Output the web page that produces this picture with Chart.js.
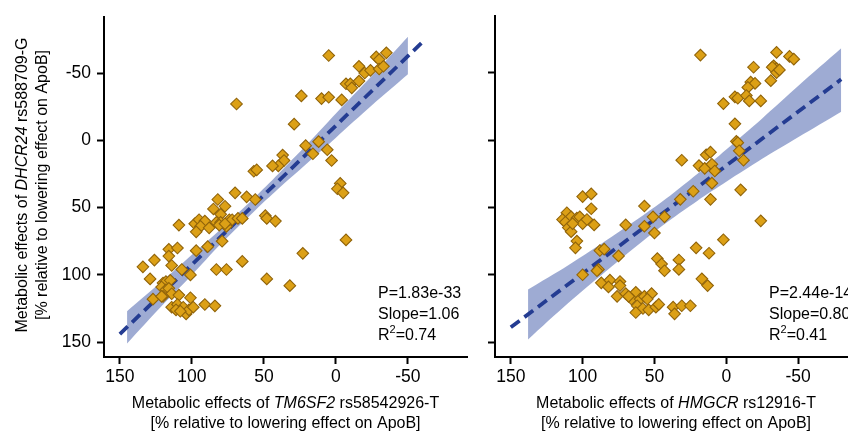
<!DOCTYPE html>
<html><head><meta charset="utf-8">
<script src="https://cdn.jsdelivr.net/npm/chart.js@4"></script>
<style>
html,body{margin:0;padding:0;width:848px;height:432px;overflow:hidden;background:#fff;}
#a{position:absolute;left:0;top:0;}
#b{position:absolute;left:480px;top:0;}
</style></head><body>
<canvas id="a" width="480" height="432"></canvas>
<canvas id="b" width="390" height="432"></canvas>
<script>
const xTicks = [-50, 0, 50, 100, 150];
const yTicks = [-50, 0, 50, 100, 150];

// Left panel: TM6SF2 (x) vs DHCR24 (y)
const leftX = [5,24,10,5,-4,29,21,12,16,6,3,-3,-1,-5,-7,-7,-10,-11,-16,-16,-20,-24,-28,-30,-35,-30,-33,69,23,
  37,36,40,44,57,55,70,62,56,82,77,85,80,109,98,95,91,94,97,88,83,80,76,74,72,68,65,81,77,49,48,42,79,89,97,116,110,116,114,126,134,65,107,83,76,101,129,48,32,
  120,118,115,121,118,116,114,120,127,121,109,101,114,110,106,104,102,99,91,84,111,108];
const leftY = [-63,-33,-31,-32,-30,-12,4,1,10,7,15,32,36,39,74,-42,-42,-39,-44,-55,-50,-52,-62,-60,-65,-53,-55,-27,84,
  11,15,19,19,23,22,39,42,44,44,49,51,55,63,62,59,60,64,68,65,61,61,64,59,59,58,58,63,62,56,58,60,75,79,82,81,80,86,93,89,94,90,96,96,96,100,103,103,108,
  106,105,104,109,111,110,114,116,118,116,115,117,124,122,124,129,126,124,122,123,126,127];

// Right panel: HMGCR (x) vs DHCR24 (y)
const rightX = [18,-35,-44,-47,-19,-33,-35,-32,-35,-37,-31,-17,-20,-15,-6,-8,-14,-16,-24,2,-6,-7,-8,-9,-12,31,14,11,19,15,10,8,10,23,32,11,-10,-24,2,
  100,94,94,111,108,114,112,104,102,100,97,92,110,108,104,105,107,70,57,51,43,57,50,88,85,75,89,90,100,87,81,82,74,74,76,70,63,66,60,57,52,62,58,54,49,47,63,55,68,48,45,43,33,33,21,12,17,13,37,31,25,36];
const rightY = [-63,-65,-62,-60,-54,-55,-53,-54,-50,-52,-44,-43,-42,-39,-32,-31,-33,-29,-29,-27,-12,1,2,8,15,15,11,9,19,21,18,23,32,38,44,44,37,60,74,
  42,40,51,54,57,59,61,58,57,62,59,63,65,68,75,80,62,63,49,57,57,64,69,82,81,86,96,97,100,106,104,109,105,108,116,114,113,118,118,116,114,123,125,126,124,122,128,118,116,88,92,97,89,96,80,84,103,108,124,123,123,129];

const leftFitX = [150, -62];
const leftFitY = [144, -75];
const leftBandX  = [145, 120, 100, 80, 57, 40, 20, 0, -25, -50];
const leftBandLo = [127, 104, 85, 66, 43, 25, 3, -20, -48, -77];
const leftBandHi = [151, 122, 100, 77, 53, 36, 17, -2, -26, -49];

const rightFitX = [150, -80];
const rightFitY = [139, -45];
const rightBandX  = [138, 110, 80, 45, 20, 0, -25, -50, -80];
const rightBandLo = [111, 93, 72, 46, 25, 7, -16, -40, -68];
const rightBandHi = [148, 121, 94, 64, 45, 31, 14, -2, -21];

const leftStats = ["P=1.83e-33", "Slope=1.06", "0.74"];
const rightStats = ["P=2.44e-14", "Slope=0.80", "0.41"];

const leftXTitle = [{t:"Metabolic effects of "},{t:"TM6SF2",it:true},{t:" rs58542926-T"}];
const rightXTitle = [{t:"Metabolic effects of "},{t:"HMGCR",it:true},{t:" rs12916-T"}];
const yTitle = [{t:"Metabolic effects of "},{t:"DHCR24",it:true},{t:" rs588709-G"}];
const unitTitle = [{t:"[% relative to lowering effect on ApoB]"}];

const FAM = '"Liberation Sans", Arial, Helvetica, sans-serif';
const zip = (xs, ys) => xs.map((x, i) => ({x: x, y: ys[i]}));

function drawSegs(ctx, segs, x, y, center, size) {
  const w = segs.map(s => { ctx.font = (s.it ? 'italic ' : '') + size + 'px ' + FAM; return ctx.measureText(s.t).width; });
  const total = w.reduce((a, b) => a + b, 0);
  let cx = center ? x - total / 2 : x;
  segs.forEach((s, i) => { ctx.font = (s.it ? 'italic ' : '') + size + 'px ' + FAM; ctx.fillText(s.t, cx, y); cx += w[i]; });
}

function textPlugin(xTitle, showY, stats, statX) {
  return {
    id: 'texts',
    afterDraw(chart) {
      const ctx = chart.ctx, a = chart.chartArea;
      ctx.save();
      ctx.fillStyle = '#000';
      ctx.textAlign = 'left';
      ctx.textBaseline = 'alphabetic';
      const cx = (a.left + a.right) / 2;
      drawSegs(ctx, xTitle, cx, 408, true, 16);
      drawSegs(ctx, unitTitle, cx, 428, true, 16);
      if (showY) {
        const cy = 185;
        ctx.save(); ctx.translate(26.5, cy); ctx.rotate(-Math.PI / 2);
        drawSegs(ctx, yTitle, 0, 0, true, 16); ctx.restore();
        ctx.save(); ctx.translate(46.5, cy); ctx.rotate(-Math.PI / 2);
        drawSegs(ctx, unitTitle, 0, 0, true, 16); ctx.restore();
      }
      ctx.font = '16px ' + FAM;
      ctx.fillText(stats[0], statX, 298);
      ctx.fillText(stats[1], statX, 319);
      ctx.fillText('R', statX, 340);
      let w = ctx.measureText('R').width;
      ctx.font = '11px ' + FAM;
      ctx.fillText('2', statX + w, 333);
      w += ctx.measureText('2').width;
      ctx.font = '16px ' + FAM;
      ctx.fillText('=' + stats[2], statX + w, 340);
      ctx.restore();
    }
  };
}

function makeScales(showY, yWidth) {
  const axisCommon = {
    type: 'linear', reverse: true,
    grid: {drawOnChartArea: false, drawTicks: true, tickLength: 7, tickWidth: 2, tickColor: '#000'},
    border: {display: true, color: '#000', width: 2}
  };
  return {
    x: Object.assign({}, axisCommon, {
      min: -91, max: 161,
      afterBuildTicks: s => { s.ticks = xTicks.map(v => ({value: v})); },
      afterFit: s => { s.height = 75; },
      ticks: {color: '#000', font: {family: FAM, size: 17.5}, padding: 3, maxRotation: 0, autoSkip: false, callback: v => String(v)}
    }),
    y: Object.assign({}, axisCommon, {
      min: -92, max: 161,
      afterBuildTicks: s => { s.ticks = yTicks.map(v => ({value: v})); },
      afterFit: s => { s.width = yWidth; },
      ticks: {display: showY, color: '#000', font: {family: FAM, size: 17.5}, padding: 6, autoSkip: false, callback: v => String(v)}
    })
  };
}

function makeChart(id, px, py, fitX, fitY, bandX, bandLo, bandHi, showY, yWidth, xTitle, stats, statX) {
  return new Chart(document.getElementById(id), {
    type: 'scatter',
    data: {
      datasets: [
        {type: 'line', data: zip(bandX, bandLo), borderWidth: 0, pointRadius: 0, fill: false, order: 3, tension: 0.3},
        {type: 'line', data: zip(bandX, bandHi), borderWidth: 0, pointRadius: 0, fill: '-1', backgroundColor: 'rgba(62,88,168,0.5)', order: 2, tension: 0.3},
        {type: 'line', data: zip(fitX, fitY), borderColor: 'rgb(36,60,146)', borderWidth: 3.8, borderDash: [11, 6], pointRadius: 0, fill: false, order: 1},
        {type: 'scatter', data: zip(px, py), pointStyle: 'rectRot', pointRadius: 5.8, backgroundColor: 'rgb(220,160,22)', borderColor: 'rgb(145,100,10)', borderWidth: 1.1, order: 0}
      ]
    },
    options: {
      responsive: false, animation: false, devicePixelRatio: 1,
      layout: {padding: {left: 0, right: 13, top: 16, bottom: 0}},
      plugins: {legend: {display: false}, tooltip: {enabled: false}},
      scales: makeScales(showY, yWidth)
    },
    plugins: [textPlugin(xTitle, showY, stats, statX)]
  });
}

makeChart('a', leftX, leftY, leftFitX, leftFitY, leftBandX, leftBandLo, leftBandHi, true, 104, leftXTitle, leftStats, 378);
makeChart('b', rightX, rightY, rightFitX, rightFitY, rightBandX, rightBandLo, rightBandHi, false, 15, rightXTitle, rightStats, 289);
</script>
</body></html>
